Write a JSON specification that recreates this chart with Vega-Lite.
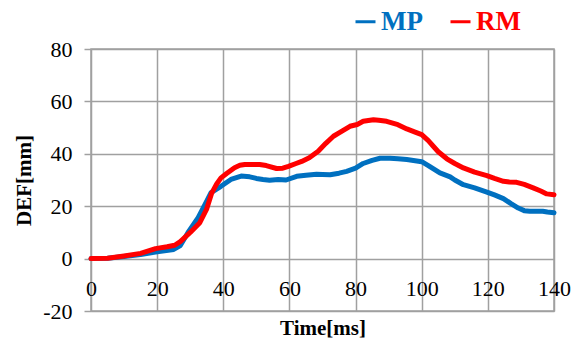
{
  "$schema": "https://vega.github.io/schema/vega-lite/v6.json",
  "autosize": {"type": "none"},
  "padding": {"left": 91, "top": 49, "right": 17, "bottom": 34},
  "width": 463,
  "height": 262,
  "background": "white",
  "config": {
    "font": "Liberation Serif",
    "view": {"stroke": "#a0a0a0", "strokeWidth": 1.5},
    "axis": {
      "gridColor": "#a0a0a0",
      "gridWidth": 1.5,
      "gridOpacity": 1,
      "labelFont": "Liberation Serif",
      "labelFontSize": 22,
      "labelColor": "#000000",
      "titleFont": "Liberation Serif",
      "titleFontSize": 21,
      "titleFontWeight": "bold",
      "titleColor": "#000000"
    }
  },
  "data": {
    "values": [
      {"t": 0, "v": 0, "s": "MP"}, {"t": 5, "v": 0.1, "s": "MP"}, {"t": 10, "v": 0.8, "s": "MP"},
      {"t": 15, "v": 1.6, "s": "MP"}, {"t": 20, "v": 2.6, "s": "MP"}, {"t": 25, "v": 3.5, "s": "MP"},
      {"t": 27, "v": 5, "s": "MP"}, {"t": 29.3, "v": 9.9, "s": "MP"}, {"t": 32.4, "v": 15.6, "s": "MP"},
      {"t": 34.8, "v": 21.4, "s": "MP"}, {"t": 36.3, "v": 25.2, "s": "MP"}, {"t": 39.3, "v": 27.6, "s": "MP"},
      {"t": 42.3, "v": 30.2, "s": "MP"}, {"t": 45.4, "v": 31.5, "s": "MP"}, {"t": 48, "v": 31.2, "s": "MP"},
      {"t": 50, "v": 30.6, "s": "MP"}, {"t": 52, "v": 30.2, "s": "MP"}, {"t": 54, "v": 29.9, "s": "MP"},
      {"t": 56.6, "v": 30.2, "s": "MP"}, {"t": 59, "v": 30, "s": "MP"}, {"t": 62.2, "v": 31.4, "s": "MP"},
      {"t": 65, "v": 31.8, "s": "MP"}, {"t": 68.2, "v": 32.2, "s": "MP"}, {"t": 70, "v": 32.1, "s": "MP"},
      {"t": 72.3, "v": 32, "s": "MP"}, {"t": 75, "v": 32.6, "s": "MP"}, {"t": 77.3, "v": 33.3, "s": "MP"},
      {"t": 80, "v": 34.5, "s": "MP"}, {"t": 82.3, "v": 36.3, "s": "MP"}, {"t": 85, "v": 37.5, "s": "MP"},
      {"t": 87.4, "v": 38.3, "s": "MP"}, {"t": 90.4, "v": 38.3, "s": "MP"}, {"t": 92.8, "v": 38.1, "s": "MP"},
      {"t": 95.5, "v": 37.8, "s": "MP"}, {"t": 100, "v": 37, "s": "MP"}, {"t": 102, "v": 35.5, "s": "MP"},
      {"t": 105.5, "v": 32.7, "s": "MP"}, {"t": 108.6, "v": 31.2, "s": "MP"}, {"t": 110, "v": 30, "s": "MP"},
      {"t": 112.6, "v": 28.2, "s": "MP"}, {"t": 116, "v": 27, "s": "MP"}, {"t": 119.7, "v": 25.4, "s": "MP"},
      {"t": 122, "v": 24.3, "s": "MP"}, {"t": 124.7, "v": 22.9, "s": "MP"}, {"t": 127, "v": 21, "s": "MP"},
      {"t": 129.2, "v": 19.3, "s": "MP"}, {"t": 131, "v": 18.3, "s": "MP"}, {"t": 132.7, "v": 18.1, "s": "MP"},
      {"t": 136.6, "v": 18.1, "s": "MP"}, {"t": 138, "v": 17.8, "s": "MP"}, {"t": 140, "v": 17.5, "s": "MP"},

      {"t": 0, "v": 0, "s": "RM"}, {"t": 5, "v": 0.1, "s": "RM"}, {"t": 10, "v": 1, "s": "RM"},
      {"t": 15, "v": 2, "s": "RM"}, {"t": 19.5, "v": 3.8, "s": "RM"}, {"t": 23, "v": 4.5, "s": "RM"},
      {"t": 25.3, "v": 5.1, "s": "RM"}, {"t": 27, "v": 6.5, "s": "RM"}, {"t": 30, "v": 10, "s": "RM"},
      {"t": 32.9, "v": 13.7, "s": "RM"}, {"t": 35, "v": 19, "s": "RM"}, {"t": 36.5, "v": 25, "s": "RM"},
      {"t": 38, "v": 28.5, "s": "RM"}, {"t": 39.3, "v": 30.8, "s": "RM"}, {"t": 41, "v": 32.5, "s": "RM"},
      {"t": 43.4, "v": 34.7, "s": "RM"}, {"t": 45, "v": 35.6, "s": "RM"}, {"t": 46.5, "v": 35.9, "s": "RM"},
      {"t": 51, "v": 35.9, "s": "RM"}, {"t": 53, "v": 35.5, "s": "RM"}, {"t": 56.1, "v": 34.4, "s": "RM"},
      {"t": 58, "v": 34.5, "s": "RM"}, {"t": 59.7, "v": 35.2, "s": "RM"}, {"t": 62, "v": 36.3, "s": "RM"},
      {"t": 63.7, "v": 37.1, "s": "RM"}, {"t": 66, "v": 38.5, "s": "RM"}, {"t": 68.7, "v": 41, "s": "RM"},
      {"t": 71, "v": 44, "s": "RM"}, {"t": 73.3, "v": 46.7, "s": "RM"}, {"t": 75, "v": 48, "s": "RM"},
      {"t": 78.3, "v": 50.5, "s": "RM"}, {"t": 80.5, "v": 51.2, "s": "RM"}, {"t": 82.3, "v": 52.4, "s": "RM"},
      {"t": 85.4, "v": 53, "s": "RM"}, {"t": 87, "v": 52.8, "s": "RM"}, {"t": 89.4, "v": 52.4, "s": "RM"},
      {"t": 92.8, "v": 51.1, "s": "RM"}, {"t": 95.5, "v": 49.5, "s": "RM"}, {"t": 98, "v": 48.3, "s": "RM"},
      {"t": 100, "v": 47.3, "s": "RM"}, {"t": 102, "v": 45, "s": "RM"}, {"t": 103.5, "v": 42.9, "s": "RM"},
      {"t": 105, "v": 40.8, "s": "RM"}, {"t": 107.6, "v": 38.1, "s": "RM"}, {"t": 110, "v": 36.3, "s": "RM"},
      {"t": 112.6, "v": 34.6, "s": "RM"}, {"t": 116, "v": 33, "s": "RM"}, {"t": 119.7, "v": 31.7, "s": "RM"},
      {"t": 122, "v": 30.6, "s": "RM"}, {"t": 124.7, "v": 29.5, "s": "RM"}, {"t": 126.5, "v": 29.2, "s": "RM"},
      {"t": 128.7, "v": 29.1, "s": "RM"}, {"t": 131, "v": 28.3, "s": "RM"}, {"t": 133.7, "v": 27, "s": "RM"},
      {"t": 136, "v": 25.8, "s": "RM"}, {"t": 137.8, "v": 24.7, "s": "RM"}, {"t": 140, "v": 24.4, "s": "RM"}
    ]
  },
  "mark": {"type": "line", "strokeWidth": 5, "strokeJoin": "round", "strokeCap": "round"},
  "encoding": {
    "x": {
      "field": "t",
      "type": "quantitative",
      "scale": {"domain": [0, 140], "nice": false, "zero": false},
      "axis": {
        "title": "Time[ms]",
        "values": [0, 20, 40, 60, 80, 100, 120, 140],
        "labelExpr": "'' + datum.value",
        "domain": false,
        "ticks": false,
        "labelPadding": -33,
        "labelFlush": false,
        "titleY": 17,
        "titleBaseline": "middle"
      }
    },
    "y": {
      "field": "v",
      "type": "quantitative",
      "scale": {"domain": [-20, 80], "nice": false, "zero": false},
      "axis": {
        "title": "DEF[mm]",
        "values": [-20, 0, 20, 40, 60, 80],
        "labelExpr": "datum.value < 0 ? '-' + abs(datum.value) : '' + datum.value",
        "domain": false,
        "ticks": true,
        "tickSize": 7,
        "tickColor": "#a0a0a0",
        "tickWidth": 1.5,
        "labelPadding": 12,
        "titlePadding": 8
      }
    },
    "color": {
      "field": "s",
      "type": "nominal",
      "scale": {"domain": ["MP", "RM"], "range": ["#0070C0", "#FF0000"]},
      "legend": {
        "title": null,
        "orient": "none",
        "direction": "horizontal",
        "legendX": 261,
        "legendY": -41,
        "symbolType": "stroke",
        "symbolSize": 400,
        "symbolStrokeWidth": 3,
        "labelFont": "Liberation Serif",
        "labelFontSize": 27,
        "labelFontWeight": "bold",
        "labelOffset": 2,
        "columnPadding": 21,
        "encode": {
          "labels": {"update": {"fill": {"scale": "color", "field": "value"}}}
        }
      }
    }
  }
}
